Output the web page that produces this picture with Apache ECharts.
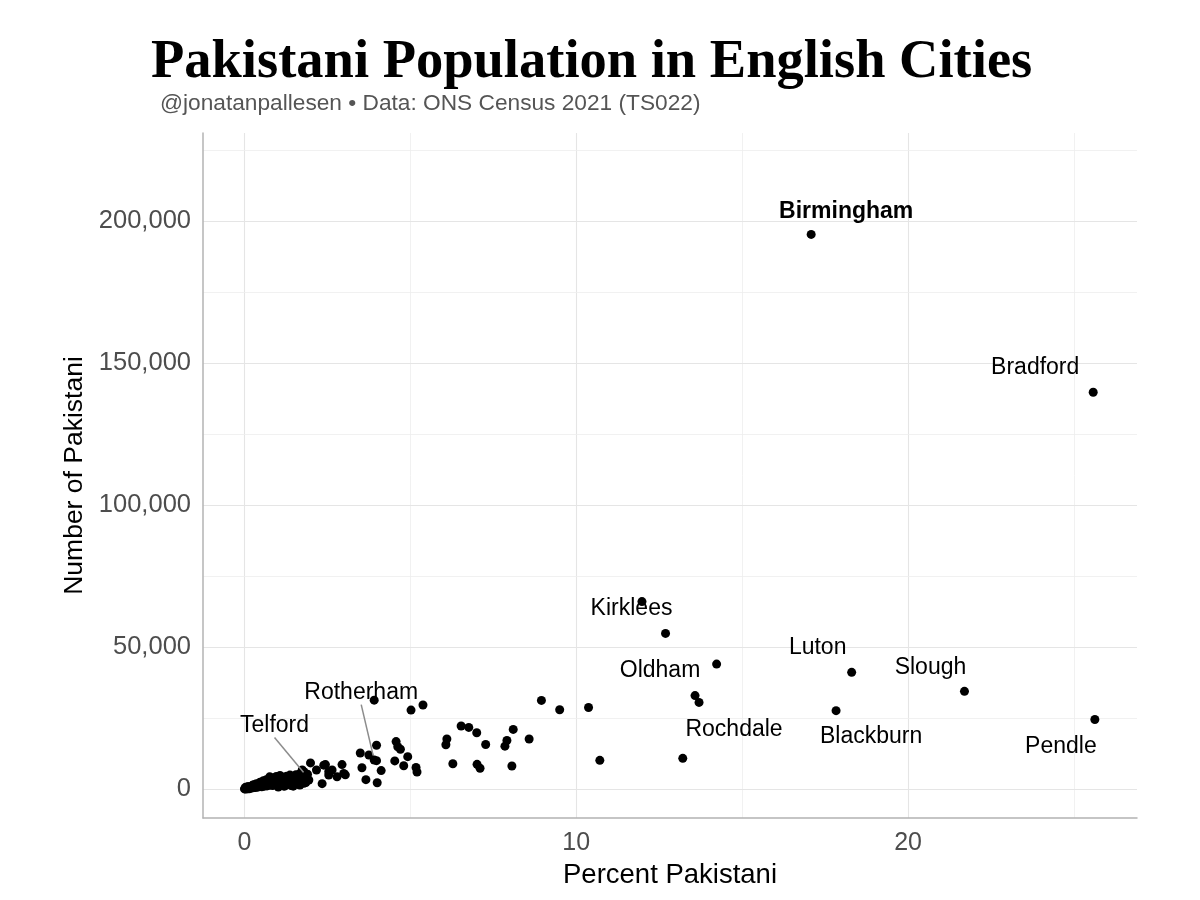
<!DOCTYPE html>
<html>
<head>
<meta charset="utf-8">
<title>Pakistani Population in English Cities</title>
<script src="https://cdn.jsdelivr.net/npm/echarts@6/dist/echarts.min.js"></script>
<style>
    html, body { margin: 0; padding: 0; background: #fff; }
    #chart { width: 1200px; height: 900px; }
</style>
</head>
<body>
<div id="chart"></div>
<script>
    // labelled local authorities
    var labelNames = ['Birmingham', 'Bradford', 'Kirklees', 'Oldham', 'Rochdale', 'Luton',
        'Slough', 'Blackburn', 'Pendle', 'Rotherham', 'Telford'];
    var labelPct = [17.08, 25.58, 12.69, 13.58, 13.70, 18.30, 21.70, 17.83, 25.63, 3.91, 1.87];
    var labelNum = [195300, 139700, 54800, 32900, 30500, 41100, 34400, 27600, 24500, 10200, 4600];

    // everything else (percent, number)
    var otherPct = [
        11.98, 14.23, 13.21, 10.71, 10.37, 9.50, 8.95, 8.58, 8.10, 7.91, 7.85, 8.06, 7.27, 7.00,
        6.76, 6.53, 6.10, 6.07, 6.28, 7.01, 7.10, 5.38, 5.02, 3.91, 4.57, 4.62, 4.70, 4.92, 4.53,
        4.80, 5.17, 5.20, 3.98, 3.49, 3.75, 3.98, 3.54, 4.12, 3.66, 4.00, 2.94, 3.04, 2.99, 2.79,
        2.64, 2.54, 2.44, 2.34, 2.17, 1.99, 1.94, 1.79, 2.54, 2.39, 1.74, 1.84,
        0.00, 0.02, 0.05, 0.06, 0.08, 0.10, 0.12, 0.14, 0.15, 0.18, 0.20, 0.22, 0.25, 0.28, 0.30,
        0.32, 0.35, 0.38, 0.40, 0.42, 0.45, 0.48, 0.50, 0.52, 0.55, 0.58, 0.60, 0.62, 0.65, 0.68,
        0.70, 0.72, 0.75, 0.78, 0.80, 0.82, 0.85, 0.88, 0.90, 0.92, 0.95, 0.98, 1.00, 1.03, 1.05,
        1.08, 1.10, 1.13, 1.15, 1.18, 1.20, 1.22, 1.25, 1.28, 1.30, 1.33, 1.35, 1.38, 1.40, 1.43,
        1.45, 1.48, 1.50, 1.53, 1.55, 1.58, 1.60, 1.63, 1.65, 1.68, 1.70, 1.73, 1.75, 1.78, 1.80,
        1.83, 1.85, 1.90, 0.03, 0.11, 0.24, 0.36, 0.47, 0.57, 0.66, 0.76, 0.86, 0.96, 1.07, 1.17,
        1.27, 1.37, 1.47, 1.57, 1.67, 0.28, 0.44, 0.62, 0.83, 1.02, 1.21, 1.41
    ];
    var otherNum = [
        66000, 44000, 10800, 10100, 28700, 27900, 31200, 17600, 21000, 17100, 15100, 8100, 15700, 19800,
        21700, 22200, 17600, 15600, 8900, 8700, 7300, 29600, 27800, 31300, 16700, 14900, 14000, 11400, 9900,
        8200, 7600, 6000, 15400, 12700, 12000, 10000, 7500, 6500, 3300, 2200, 8600, 5000, 5500, 4300,
        6700, 4900, 8600, 1900, 6700, 9200, 3200, 2000, 6100, 8400, 6700, 5500,
        50, 100, 200, 0, 300, 150, 400, 100, 250, 500, 350, 700, 450, 600, 900,
        500, 800, 1100, 650, 1300, 900, 1000, 1500, 800, 1200, 1700, 1000, 1400, 2000, 1100,
        1600, 2500, 1300, 3400, 1900, 2800, 1200, 2200, 3000, 1700, 2400, 3600, 1500, 2700, 3300,
        2000, 3800, 2500, 1800, 3100, 4000, 2300, 2900, 3500, 1900, 4300, 2600, 3200, 2100, 3900,
        2800, 4600, 2400, 3400, 5000, 2200, 3700, 4200, 2700, 5500, 3000, 4000, 2500, 6200, 3500,
        4500, 2300, 5200, 600, 900, 1300, 1900, 2400, 2900, 3300, 4300, 3800, 4400, 4800, 1100,
        4500, 4900, 1000, 4600, 1400, 1500, 1900, 2700, 3900, 700, 1000, 1200
    ];

    var xTicks = [0, 10, 20];
    var xMinor = [5, 15, 25];
    var yTicks = [0, 50000, 100000, 150000, 200000];
    var yMinor = [25000, 75000, 125000, 175000, 225000];

    // label placement relative to its point, px
    var labelShift = {
        Birmingham: [35, -23], Bradford: [-58, -25], Kirklees: [-34, -25], Oldham: [-35, -25],
        Rochdale: [35, 27], Luton: [-34, -25], Slough: [-34, -24], Blackburn: [35, 26],
        Pendle: [-34, 27], Rotherham: [-13, -67], Telford: [-32, -50]
    };

    var chart = echarts.init(document.getElementById('chart'));

    var others = otherPct.map(function (p, i) { return [p, otherNum[i]]; });
    var labelled = labelNames.map(function (n, i) {
        var item = { name: n, value: [labelPct[i], labelNum[i]] };
        if (n === 'Birmingham') {
            item.label = { fontWeight: 'bold' };
        }
        if (n === 'Rotherham' || n === 'Telford') {
            item.labelLine = { show: true };
        }
        return item;
    });

    var gridLines = [];
    xTicks.forEach(function (v) { gridLines.push({ xAxis: v, lineStyle: { color: '#e5e5e5', width: 1.1, type: 'solid' } }); });
    xMinor.forEach(function (v) { gridLines.push({ xAxis: v, lineStyle: { color: '#eeeeee', width: 0.8, type: 'solid' } }); });
    yTicks.forEach(function (v) { gridLines.push({ yAxis: v, lineStyle: { color: '#e5e5e5', width: 1.1, type: 'solid' } }); });
    yMinor.forEach(function (v) { gridLines.push({ yAxis: v, lineStyle: { color: '#eeeeee', width: 0.8, type: 'solid' } }); });

    chart.setOption({
        animation: false,
        backgroundColor: '#fff',
        title: [
            {
                text: 'Pakistani Population in English Cities',
                left: 146,
                top: 30,
                textStyle: { fontFamily: 'Liberation Serif', fontWeight: 'bold', fontSize: 54.5, color: '#000' }
            },
            {
                text: '@jonatanpallesen • Data: ONS Census 2021 (TS022)',
                left: 155,
                top: 87,
                textStyle: { fontFamily: 'Liberation Sans', fontWeight: 'normal', fontSize: 22.7, color: '#555' }
            }
        ],
        grid: {
            left: 203,
            right: 63,
            top: 133,
            bottom: 82,
            containLabel: false,
            outerBoundsMode: 'none'
        },
        xAxis: {
            type: 'value',
            min: -1.25,
            max: 26.9,
            name: 'Percent Pakistani',
            nameLocation: 'middle',
            nameGap: 43,
            nameTextStyle: { fontFamily: 'Liberation Sans', fontSize: 27.5, color: '#000' },
            axisLine: { show: true, onZero: false, lineStyle: { color: '#b3b3b3', width: 1.5 } },
            axisTick: { show: false },
            splitLine: { show: false },
            axisLabel: {
                customValues: xTicks,
                margin: 13,
                fontFamily: 'Liberation Sans',
                fontSize: 25,
                color: '#4d4d4d'
            }
        },
        yAxis: {
            type: 'value',
            min: -10200,
            max: 231000,
            name: 'Number of Pakistani',
            nameLocation: 'middle',
            nameRotate: 90,
            nameGap: 115,
            nameTextStyle: { fontFamily: 'Liberation Sans', fontSize: 26.5, color: '#000' },
            axisLine: { show: true, onZero: false, lineStyle: { color: '#b3b3b3', width: 1.5 } },
            axisTick: { show: false },
            splitLine: { show: false },
            axisLabel: {
                customValues: yTicks,
                margin: 12,
                fontFamily: 'Liberation Sans',
                fontSize: 25.5,
                color: '#4d4d4d',
                formatter: function (v) { return v.toLocaleString('en-US'); }
            }
        },
        series: [
            {
                name: 'grid',
                type: 'scatter',
                data: [],
                z: 0,
                silent: true,
                markLine: {
                    silent: true,
                    z: 0,
                    symbol: 'none',
                    label: { show: false },
                    animation: false,
                    data: gridLines
                }
            },
            {
                name: 'others',
                type: 'scatter',
                z: 3,
                symbolSize: 9,
                itemStyle: { color: '#000', opacity: 1 },
                data: others
            },
            {
                name: 'labelled',
                type: 'scatter',
                z: 4,
                symbolSize: 9,
                itemStyle: { color: '#000', opacity: 1 },
                label: {
                    show: true,
                    position: 'inside',
                    formatter: '{b}',
                    fontFamily: 'Liberation Sans',
                    fontSize: 23,
                    color: '#000'
                },
                labelLine: {
                    show: false,
                    lineStyle: { color: '#8c8c8c', width: 1.5 }
                },
                labelLayout: function (p) {
                    var s = labelShift[labelNames[p.dataIndex]];
                    return { dx: s[0], dy: s[1] };
                },
                data: labelled
            }
        ]
    });
</script>
</body>
</html>
